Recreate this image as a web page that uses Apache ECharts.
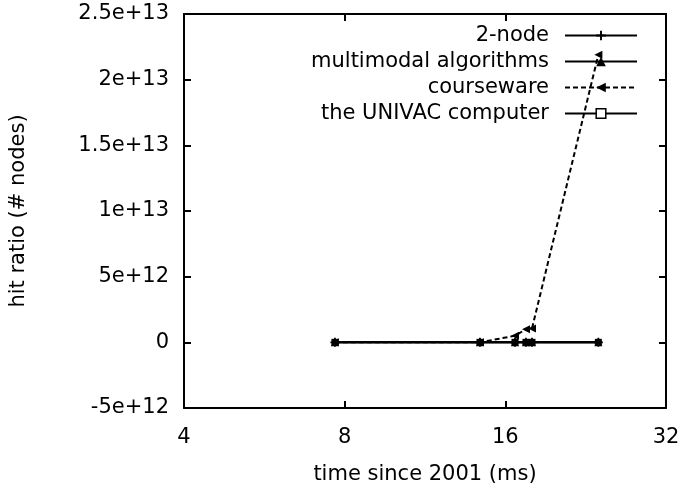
<!DOCTYPE html>
<html>
<head>
<meta charset="utf-8">
<script src="https://cdn.jsdelivr.net/npm/echarts@6/dist/echarts.min.js"></script>
<style>
html,body{margin:0;padding:0;background:#fff;}
#chart{width:686px;height:488px;}
</style>
</head>
<body>
<div id="chart"></div>
<script>
// ---- data ----
var seriesNames = ['2-node', 'multimodal algorithms', 'courseware', 'the UNIVAC computer'];
var timeValues = [7.67, 14.34, 16.68, 17.49, 17.95, 23.9];
var twoNode = [0, 0, 0, 0, 0, 0];
var multimodal = [0, 0, 0, 0, 0, 0];
var courseware = [0, 0, 5e11, 1e12, 1.05e12, 2.19e13];
var univac = [0, 0, 0, 0, 0, 0];
var xTicks = [4, 8, 16, 32];
var yTicks = [-5e12, 0, 5e12, 1e13, 1.5e13, 2e13, 2.5e13];

function pairs(ys) { return timeValues.map(function (x, i) { return [x, ys[i]]; }); }
function fmtY(v) {
  if (v === 0) return '0';
  var e = Math.floor(Math.log10(Math.abs(v)) + 1e-9);
  var m = parseFloat((v / Math.pow(10, e)).toPrecision(6));
  return m + 'e' + (e >= 0 ? '+' : '-') + Math.abs(e);
}

var FONT = 'DejaVu Sans';
var FS = 21;
var txt = { fontFamily: FONT, fontSize: FS, color: '#000' };
var plusPath = 'path://M3.6,0h1.8v3.6h3.6v1.8h-3.6v3.6h-1.8v-3.6h-3.6v-1.8h3.6z';

var chart = echarts.init(document.getElementById('chart'), null, { renderer: 'canvas' });
var axisLine = { show: true, onZero: false, lineStyle: { color: '#000', width: 2 } };
var tick = { show: true, inside: true, length: 7, lineStyle: { color: '#000', width: 2 } };

chart.setOption({
  animation: false,
  backgroundColor: '#fff',
  grid: { left: 184, right: 20, top: 14, bottom: 80, containLabel: false, outerBoundsMode: 'none' },
  legend: {
    orient: 'vertical', right: 43, top: 20, align: 'right',
    itemWidth: 72, itemHeight: 12, itemGap: 5, selectedMode: false,
    data: [
      { name: seriesNames[0] },
      { name: seriesNames[1] },
      { name: seriesNames[2] },
      { name: seriesNames[3], itemStyle: { color: '#fff', borderColor: '#000', borderWidth: 1.5 } }
    ],
    textStyle: { fontFamily: FONT, fontSize: FS, color: '#000', lineHeight: 21, padding: [0, 11, 0, 0] }
  },
  xAxis: [{
    type: 'log', logBase: 2, min: xTicks[0], max: xTicks[xTicks.length - 1],
    position: 'bottom',
    name: 'time since 2001 (ms)', nameLocation: 'middle', nameGap: 56,
    nameTextStyle: txt,
    axisLine: axisLine, axisTick: tick, splitLine: { show: false }, minorTick: { show: false },
    axisLabel: Object.assign({ margin: 19 }, txt)
  }, {
    type: 'log', logBase: 2, min: xTicks[0], max: xTicks[xTicks.length - 1],
    position: 'top',
    axisLine: axisLine, axisTick: tick, splitLine: { show: false },
    axisLabel: { show: false }
  }],
  yAxis: [{
    type: 'value', min: yTicks[0], max: yTicks[yTicks.length - 1], interval: 5e12,
    position: 'left',
    name: 'hit ratio (# nodes)', nameLocation: 'middle', nameGap: 155,
    nameTextStyle: txt,
    axisLine: axisLine, axisTick: tick, splitLine: { show: false },
    axisLabel: Object.assign({ margin: 15, formatter: fmtY }, txt)
  }, {
    type: 'value', min: yTicks[0], max: yTicks[yTicks.length - 1], interval: 5e12,
    position: 'right',
    axisLine: axisLine, axisTick: tick, splitLine: { show: false },
    axisLabel: { show: false }
  }],
  series: [{
    name: seriesNames[0], type: 'line', data: pairs(twoNode),
    symbol: plusPath, symbolSize: 9, showAllSymbol: true,
    lineStyle: { color: '#000', width: 2 }, itemStyle: { color: '#000' }
  }, {
    name: seriesNames[1], type: 'line', data: pairs(multimodal),
    symbol: 'triangle', symbolSize: 8,
    lineStyle: { color: '#000', width: 2 }, itemStyle: { color: '#000' }
  }, {
    name: seriesNames[2], type: 'line', data: pairs(courseware),
    symbol: 'triangle', symbolRotate: 90, symbolSize: 8,
    lineStyle: { color: '#000', width: 2, type: [5, 3] }, itemStyle: { color: '#000' }
  }, {
    name: seriesNames[3], type: 'line', data: pairs(univac),
    symbol: 'rect', symbolSize: 7,
    lineStyle: { color: '#000', width: 2 }, itemStyle: { color: '#000' }
  }]
});
</script>
</body>
</html>
